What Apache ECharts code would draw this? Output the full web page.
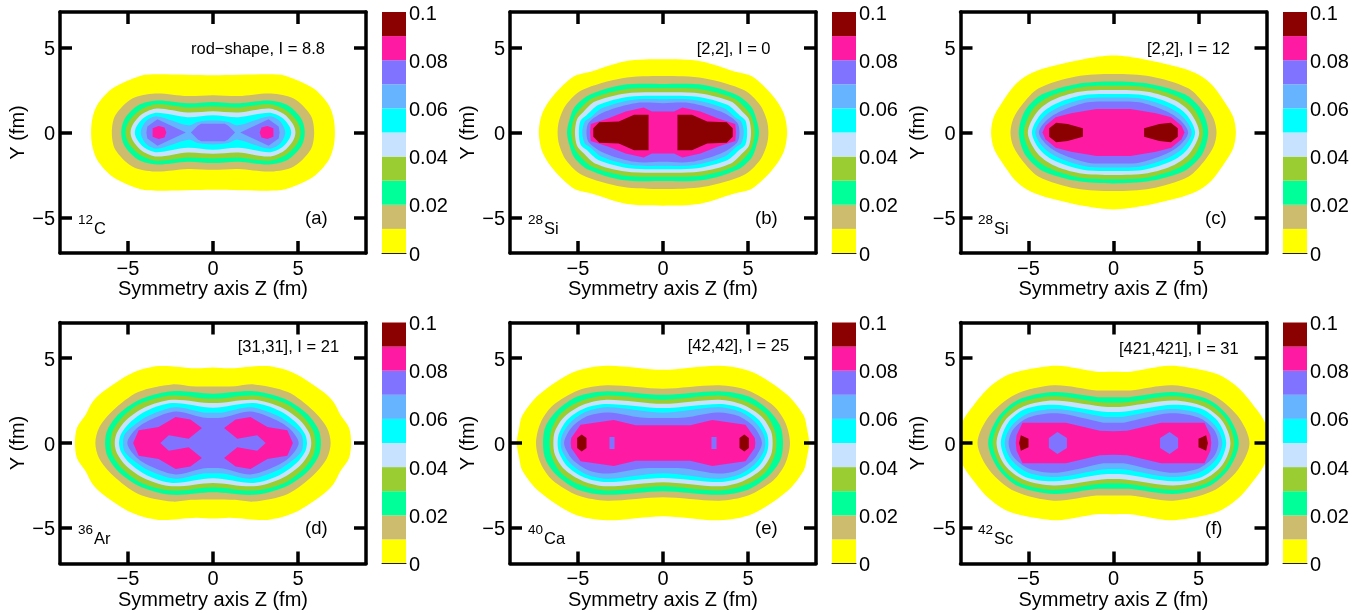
<!DOCTYPE html>
<html><head><meta charset="utf-8">
<style>html,body{margin:0;padding:0;background:#fff}#c{width:1372px;height:613px}</style>
<script src="https://cdn.jsdelivr.net/npm/echarts@6/dist/echarts.min.js"></script>
</head><body><div id="c"></div>
<script>
// Colour bands of the density scale, lowest first (each band 0.01 wide)
const bandColors = ['#ffff00','#cdbb6e','#00ff99','#9acd32','#c6e2ff','#00ffff','#66b3ff','#8073ff','#ff1aa3','#8b0000'];
const barTicks = [0,0.02,0.04,0.06,0.08,0.1];
const zTicks = [-5,0,5];
const yTicks = [-5,0,5];
const panelTags = ['(a)','(b)','(c)','(d)','(e)','(f)'];
const massNumbers = ['12','28','28','36','40','42'];
const elements = ['C','Si','Si','Ar','Ca','Sc'];
const configs = ['rod\u2212shape, I = 8.8','[2,2], I = 0','[2,2], I = 12','[31,31], I = 21','[42,42], I = 25','[421,421], I = 31'];

// Iso-density outlines: [band index, first-quadrant outline as [Z fm, Y fm]].
// Outline ending at Z=0: mirrored on both axes. Outline ending at Y=0: an island mirrored to both sides.
const contoursA = [
 [0,[[7.17,0],[7.1,.8],[6.8,1.63],[5.9,2.6],[4.25,3.35],[3.27,3.43],[0,3.37]]],
 [1,[[5.95,0],[5.75,1.0],[4.75,2.0],[3.4,2.3],[1.5,2.15],[0,2.2]]],
 [2,[[5.4,0],[5.2,.8],[4.4,1.6],[3.3,1.88],[1.5,1.72],[0,1.8]]],
 [3,[[5.15,0],[4.95,.65],[4.27,1.33],[3.3,1.66],[1.5,1.48],[0,1.53]]],
 [4,[[4.85,0],[4.7,.5],[4.15,1.1],[3.3,1.42],[1.5,1.18],[0,1.25]]],
 [5,[[4.6,0],[4.5,.35],[4.05,.88],[3.3,1.16],[1.5,.9],[0,1.02]]],
 [6,[[4.25,0],[3.95,.65],[3.3,.95],[1.45,.42],[.9,.62],[0,.7]]],
 [7,[[3.92,0],[3.86,.35],[3.27,.78],[1.6,0]]],
 [7,[[1.3,0],[.9,.4],[.7,.52],[0,.52]]],
 [8,[[2.75,0],[2.85,.3],[3.2,.39],[3.55,.25],[3.55,0]]]
];
const contoursB = [
 [0,[[7.3,0],[7.1,1.14],[6.43,2.2],[5.25,3.3],[4.2,3.6],[2.2,4.2],[0,4.31]]],
 [1,[[6.2,0],[6.1,.75],[5.7,1.63],[4.76,2.5],[2.4,3.2],[0,3.33]]],
 [2,[[5.65,0],[5.5,.75],[5.2,1.5],[4.37,2.2],[2.4,2.8],[0,2.86]]],
 [3,[[5.4,0],[5.25,.8],[5.0,1.25],[4.18,2.0],[2.2,2.55],[0,2.6]]],
 [4,[[5.18,0],[5.05,.8],[4.7,1.2],[4,1.82],[2.2,2.3],[0,2.37]]],
 [5,[[4.95,0],[4.85,.7],[4.5,1.02],[3.78,1.63],[2,2.1],[0,2.16]]],
 [6,[[4.75,0],[4.6,.65],[4.3,.85],[3.6,1.43],[1.82,1.92],[0,1.96]]],
 [7,[[4.5,0],[4.35,.6],[3.4,1.23],[1.63,1.73],[0,1.73]]],
 [8,[[4.29,0],[4.25,.5],[3.2,.84],[2.2,1.23],[1.14,1.47],[.65,1.23],[0,1.23]]],
 [9,[[.85,0],[.85,1.04],[1.7,1.04],[2.6,.65],[3.75,.6],[4.1,.25],[4.1,0]]]
];
const contoursC = [
 [0,[[7.2,0],[7.05,.9],[6.6,1.7],[5.8,2.8],[5.04,3.39],[4.06,3.78],[1.7,4.33],[0,4.53]]],
 [1,[[6.06,0],[5.9,.8],[5.4,1.6],[4.4,2.6],[2.2,3.3],[0,3.45]]],
 [2,[[5.57,0],[5.45,.7],[5.1,1.45],[4.2,2.25],[2.2,2.85],[0,3.0]]],
 [3,[[5.27,0],[4.8,1.3],[3.9,2.05],[2,2.65],[0,2.75]]],
 [4,[[5.04,0],[4.5,1.2],[3.6,1.9],[2,2.4],[0,2.5]]],
 [5,[[4.8,0],[4.3,1.05],[3.4,1.7],[1.8,2.2],[0,2.27]]],
 [6,[[4.6,0],[4.1,.9],[3.2,1.5],[1.6,2.0],[0,2.06]]],
 [7,[[4.39,0],[3.9,.75],[3.0,1.3],[1.5,1.78],[0,1.82]]],
 [8,[[4.18,0],[4.0,.4],[3.4,.9],[2.5,1.14],[1,1.39],[0,1.39]]],
 [9,[[1.8,0],[1.8,.25],[2.7,.5],[3.37,.58],[3.78,.25],[3.78,0]]]
];
const contoursD = [
 [0,[[8.12,0],[8.0,.9],[7.5,1.65],[7.1,2.4],[6.5,3.0],[4.8,4.1],[3.2,4.53],[1,4.4],[0,4.45]]],
 [1,[[6.92,0],[6.7,.9],[5.9,1.9],[4.4,3.0],[2.4,3.45],[1.3,3.35],[0,3.33]]],
 [2,[[6.35,0],[6.2,.8],[5.5,1.75],[4.2,2.6],[2.4,3.05],[0,2.9]]],
 [3,[[6.02,0],[5.9,.7],[5.3,1.55],[4.2,2.35],[2.4,2.8],[0,2.6]]],
 [4,[[5.78,0],[5.65,.6],[5.1,1.35],[4,2.1],[2.4,2.55],[0,2.35]]],
 [5,[[5.53,0],[5.4,.55],[4.9,1.2],[3.9,1.9],[2.4,2.35],[0,2.08]]],
 [6,[[5.29,0],[5.2,.5],[4.7,1.0],[3.8,1.6],[2.2,2.1],[.6,1.8],[0,1.78]]],
 [7,[[5.04,0],[4.5,.85],[3.6,1.4],[2.2,1.85],[.6,1.5],[0,1.47]]],
 [8,[[3.1,0],[2.6,.45],[1.43,.25],[.65,.88],[1.33,1.39],[2.2,1.53],[3.2,.94],[4.37,.75],[4.7,0]]]
];
const contoursE = [
 [0,[[8.6,0],[8.47,.84],[8.27,1.63],[7.3,2.84],[5.25,4.18],[3.3,4.55],[0,4.31]]],
 [1,[[7.47,0],[7.2,1.2],[6.5,2.2],[5,3.1],[3.3,3.4],[0,3.2]]],
 [2,[[7.06,0],[6.9,1.0],[6.2,1.95],[5,2.75],[3.3,3.05],[0,2.84]]],
 [3,[[6.67,0],[6.55,.8],[6,1.75],[4.9,2.45],[3.3,2.8],[0,2.55]]],
 [4,[[6.45,0],[6.35,.7],[5.8,1.55],[4.7,2.25],[3.3,2.55],[0,2.31]]],
 [5,[[6.2,0],[6.1,.6],[5.6,1.4],[4.6,2.05],[3.3,2.3],[0,2.06]]],
 [6,[[6.02,0],[5.9,.55],[5.4,1.25],[4.5,1.85],[3.2,2.1],[0,1.78]]],
 [7,[[5.82,0],[5.7,.4],[5.3,1.0],[4.4,1.6],[3.2,1.8],[1.3,1.5],[0,1.47]]],
 [8,[[5.43,0],[5.4,.3],[4.85,1.07],[2.9,1.35],[1.6,1.04],[0,1.04]]],
 [9,[[4.5,0],[4.5,.3],[4.78,.5],[5.05,.3],[5.05,0]]],
 [7,[[2.85,0],[2.85,.35],[3.15,.35],[3.15,0]]]
];
const contoursF = [
 [0,[[9.3,0],[8.9,1.23],[8.4,2.0],[7.4,3.2],[6.3,3.98],[5.2,4.3],[3.3,4.55],[1,4.2],[0,4.2]]],
 [1,[[8.0,0],[7.3,1.6],[5.8,2.85],[3.5,3.4],[1,3.1],[0,3.1]]],
 [2,[[7.37,0],[6.8,1.5],[5.6,2.55],[3.5,3.0],[.9,2.7],[0,2.7]]],
 [3,[[7.1,0],[6.6,1.4],[5.5,2.35],[3.5,2.75],[.8,2.4],[0,2.37]]],
 [4,[[6.88,0],[6.4,1.3],[5.3,2.15],[3.5,2.5],[.7,2.15],[0,2.12]]],
 [5,[[6.63,0],[6.2,1.2],[5.2,2.0],[3.5,2.25],[.7,1.85],[0,1.82]]],
 [6,[[6.4,0],[6,1.0],[5,1.75],[3.3,2.0],[.6,1.55],[0,1.53]]],
 [7,[[6.17,0],[5.9,.8],[5,1.5],[3.3,1.75],[.6,1.2],[0,1.2]]],
 [8,[[5.75,0],[5.7,.45],[5.35,1.2],[2.8,1.2],[.8,.72],[0,.69]]],
 [7,[[2.74,0],[2.74,.3],[3.3,.65],[3.8,.3],[3.8,0]]],
 [9,[[5.0,0],[5.0,.25],[5.45,.45],[5.55,0]]]
];
const allContours = [contoursA,contoursB,contoursC,contoursD,contoursE,contoursF];

const colLeft = [60,510,960.5];
const barLeft = [382,832,1283];
const rowTop = [12,322.5];
const plotW = 306, plotH = 241, barW = 24;
const font = 'Liberation Sans, Arial, Helvetica, sans-serif';
const inkColor = '#000';

function rings(chain){
  const last = chain[chain.length-1];
  if(last[0]===0){
    const rev = chain.slice().reverse();
    const q2 = rev.slice(1).map(p=>[-p[0],p[1]]);
    const q3 = chain.slice(1).map(p=>[-p[0],-p[1]]);
    const q4 = rev.slice(1,-1).map(p=>[p[0],-p[1]]);
    return [chain.concat(q2,q3,q4)];
  }
  const r = chain.concat(chain.slice().reverse().map(p=>[p[0],-p[1]]));
  return [r, r.map(p=>[-p[0],p[1]])];
}

const grids=[],xAxes=[],yAxes=[],series=[],graphics=[];
const ax = {axisLine:{show:true,onZero:false,lineStyle:{color:inkColor,width:3.5}},
            axisTick:{show:true,inside:true,length:12,lineStyle:{color:inkColor,width:3.5}},
            splitLine:{show:false}, z:10};

allContours.forEach((contours,i)=>{
  const c=i%3, r=Math.floor(i/3);
  const gi=grids.length;
  grids.push({left:colLeft[c],top:rowTop[r],width:plotW,height:plotH});
  const xi=xAxes.length, yi=yAxes.length;
  const minusFmt=v=>String(v).replace('-','\u2212');
  xAxes.push(Object.assign({},ax,{gridIndex:gi,type:'value',position:'bottom',min:-9,max:9,
    axisTick:Object.assign({},ax.axisTick,{customValues:zTicks}),
    axisLabel:{show:true,customValues:zTicks,formatter:minusFmt,fontSize:20,fontFamily:font,color:inkColor,margin:6},
    name:'Symmetry axis Z (fm)',nameLocation:'middle',nameGap:26,
    nameTextStyle:{fontSize:20,fontFamily:font,color:inkColor}}));
  xAxes.push(Object.assign({},ax,{gridIndex:gi,type:'value',position:'top',min:-9,max:9,
    axisTick:Object.assign({},ax.axisTick,{customValues:zTicks}),axisLabel:{show:false}}));
  yAxes.push(Object.assign({},ax,{gridIndex:gi,type:'value',position:'left',min:-7.1,max:7.1,
    axisTick:Object.assign({},ax.axisTick,{customValues:yTicks}),
    axisLabel:{show:true,customValues:yTicks,formatter:minusFmt,fontSize:20,fontFamily:font,color:inkColor,margin:5,verticalAlign:'top',lineHeight:4},
    name:'Y (fm)',nameLocation:'middle',nameGap:31,
    nameTextStyle:{fontSize:20,fontFamily:font,color:inkColor}}));
  yAxes.push(Object.assign({},ax,{gridIndex:gi,type:'value',position:'right',min:-7.1,max:7.1,
    axisTick:Object.assign({},ax.axisTick,{customValues:yTicks}),axisLabel:{show:false}}));
  const polys=[];
  contours.forEach(e=>rings(e[1]).forEach(p=>polys.push({band:e[0],pts:p,round:e[0]<=7&&e[1][e[1].length-1][0]===0&&e[1][0][0]>2})));
  series.push({type:'custom',coordinateSystem:'cartesian2d',xAxisIndex:xi,yAxisIndex:yi,clip:true,silent:true,
    animation:false,
    data:polys.map((p,k)=>[0,0,k]),
    renderItem:(params,api)=>{
      const p=polys[params.dataIndex];
      return {type:'polygon',shape:{points:p.pts.map(q=>api.coord(q)),smooth:p.round?0.3:0},
              style:{fill:bandColors[p.band],stroke:null}};
    }});

  // colour bar
  const bg=grids.length;
  grids.push({left:barLeft[c],top:rowTop[r],width:barW,height:plotH});
  const bx=xAxes.length, by=yAxes.length;
  xAxes.push({gridIndex:bg,type:'value',min:0,max:1,position:'bottom',
    axisLine:{show:true,onZero:false,lineStyle:{color:'#222',width:1}},axisTick:{show:false},axisLabel:{show:false},splitLine:{show:false},z:10});
  yAxes.push({gridIndex:bg,type:'value',position:'right',min:0,max:0.1,
    axisLine:{show:false},axisTick:{show:false},splitLine:{show:false},
    axisLabel:{show:true,customValues:barTicks,formatter:v=>String(+(+v).toFixed(2)),fontSize:20,fontFamily:font,color:inkColor,margin:3,verticalAlign:'top',lineHeight:4}});
  series.push({type:'custom',coordinateSystem:'cartesian2d',xAxisIndex:bx,yAxisIndex:by,silent:true,animation:false,
    data:bandColors.map((col,k)=>[0,k/100,(k+1)/100]),
    renderItem:(params,api)=>{
      const a=api.coord([0,api.value(1)]), b=api.coord([1,api.value(2)]);
      return {type:'rect',shape:{x:a[0],y:b[1],width:b[0]-a[0],height:a[1]-b[1]},
              style:{fill:bandColors[params.dataIndex],stroke:null}};
    }});

  // annotations
  const dx=c*450, dy=r*310;
  const t=(text,x,y,size)=>graphics.push({type:'text',x:x,y:y,z:20,silent:true,
    style:{text:text,font:size+'px '+font,fill:inkColor,verticalAlign:'middle',align:'left'}});
  t(massNumbers[i],78+dx,220+dy,13.5);
  t(elements[i],94+dx,229+dy,16.5);
  t(panelTags[i],305+dx,219+dy,18.5);
});
const configPos=[[191,49],[696.7,49],[1147,49],[237.7,347.7],[687.7,346.3],[1119,349.3]];
configs.forEach((s,i)=>graphics.push({type:'text',x:configPos[i][0],y:configPos[i][1],z:20,silent:true,
  style:{text:s,font:'16.5px '+font,fill:inkColor,verticalAlign:'middle',align:'left'}}));

const chart=echarts.init(document.getElementById('c'),null,{renderer:'canvas'});
chart.setOption({animation:false,backgroundColor:'#fff',grid:grids,xAxis:xAxes,yAxis:yAxes,series:series,graphic:graphics});
</script></body></html>
